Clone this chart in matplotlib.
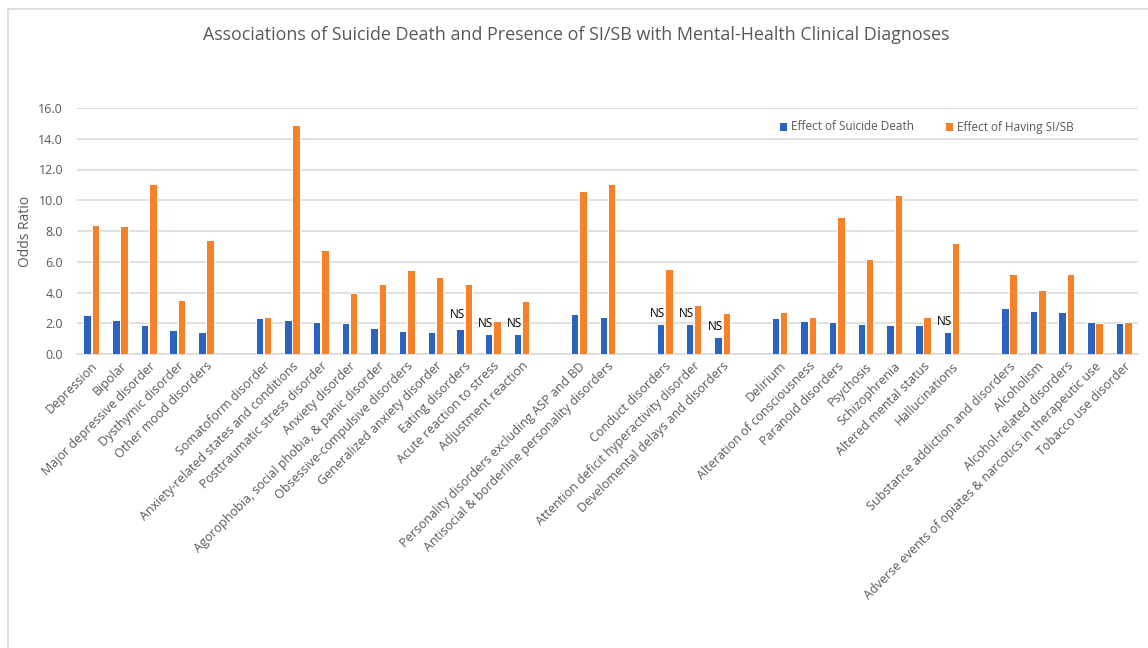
import matplotlib
matplotlib.use("Agg")
import matplotlib.pyplot as plt
from matplotlib.lines import Line2D
import numpy as np

plt.rcParams['font.family'] = ['Open Sans', 'DejaVu Sans']

# Categories ("" marks an empty slot between groups)
categories = [
    "Depression", "Bipolar", "Major depressive disorder", "Dysthymic disorder",
    "Other mood disorders", "",
    "Somatoform disorder", "Anxiety-related states and conditions",
    "Posttraumatic stress disorder", "Anxiety disorder",
    "Agorophobia, social phobia, & panic disorder", "Obsessive-compulsive disorders",
    "Generalized anxiety disorder", "Eating disorders", "Acute reaction to stress",
    "Adjustment reaction", "",
    "Personality disorders excluding ASP and BD",
    "Antisocial & borderline personality disorders", "",
    "Conduct disorders", "Attention deficit hyperactivity disorder",
    "Develomental delays and disorders", "",
    "Delirium", "Alteration of consciousness", "Paranoid disorders", "Psychosis",
    "Schizophrenia", "Altered mental status", "Hallucinations", "",
    "Substance addiction and disorders", "Alcoholism", "Alcohol-related disorders",
    "Adverse events of opiates & narcotics in therapeutic use", "Tobacco use disorder",
]

suicide_death = [
    2.52, 2.21, 1.86, 1.56, 1.43, None,
    2.36, 2.19, 2.08, 2.02, 1.69, 1.50, 1.43, 1.63, 1.30, 1.28, None,
    2.58, 2.41, None,
    1.97, 1.97, 1.08, None,
    2.36, 2.17, 2.08, 1.97, 1.89, 1.86, 1.45, None,
    2.99, 2.78, 2.73, 2.08, 2.04,
]

si_sb = [
    8.42, 8.30, 11.05, 3.49, 7.42, None,
    2.41, 14.88, 6.76, 3.99, 4.55, 5.46, 4.99, 4.55, 2.12, 3.43, None,
    10.60, 11.08, None,
    5.55, 3.19, 2.69, None,
    2.75, 2.41, 8.89, 6.16, 10.34, 2.41, 7.22, None,
    5.18, 4.14, 5.20, 2.00, 2.08,
]

ns_categories = [
    "Eating disorders", "Acute reaction to stress", "Adjustment reaction",
    "Conduct disorders", "Attention deficit hyperactivity disorder",
    "Develomental delays and disorders", "Hallucinations",
]

series_names = ["Effect of Suicide Death", "Effect of Having SI/SB"]
yticks = [0, 2, 4, 6, 8, 10, 12, 14, 16]

BLUE = "#2C63BF"
ORANGE = "#F5822A"
GRID = "#D9D9D9"
TXT = "#595959"

W, H = 1148, 648
fig = plt.figure(figsize=(W / 100, H / 100), dpi=100)
fig.patch.set_facecolor("white")

# Frame lines (left and top of the chart area)
fig.add_artist(Line2D([8 / W, 8 / W], [0, 1 - 9 / H], transform=fig.transFigure,
                      color=GRID, lw=1.2))
fig.add_artist(Line2D([8 / W, 1], [1 - 9 / H, 1 - 9 / H], transform=fig.transFigure,
                      color=GRID, lw=1.2))

left, right, top, bottom = 77, 1138, 108, 354
ax = fig.add_axes([left / W, 1 - bottom / H, (right - left) / W, (bottom - top) / H])

x = np.arange(len(categories))
bw = 0.26
off = 0.145
sd = np.array([np.nan if v is None else v for v in suicide_death])
ss = np.array([np.nan if v is None else v for v in si_sb])
mask = ~np.isnan(sd)
b1 = ax.bar(x[mask] - off, sd[mask], width=bw, color=BLUE, edgecolor="white",
            linewidth=0.7, label=series_names[0], zorder=3)
b2 = ax.bar(x[mask] + off, ss[mask], width=bw, color=ORANGE, edgecolor="white",
            linewidth=0.7, label=series_names[1], zorder=3)

for name in ns_categories:
    i = categories.index(name)
    dy = 6 if name == "Eating disorders" else 3
    ax.annotate("NS", (x[i] - off, sd[i]), xytext=(-2, dy), textcoords="offset points",
                ha="center", va="bottom", fontsize=8.5, color="black", zorder=4)

ax.set_xlim(-0.5, len(categories) - 0.5)
ax.set_ylim(0, 16)
ax.set_yticks(yticks)
ax.set_yticklabels([f"{v:.1f}" for v in yticks])
ax.yaxis.grid(True, color=GRID, lw=1.1, zorder=0)
ax.set_axisbelow(True)
for s in ["top", "right", "left"]:
    ax.spines[s].set_visible(False)
ax.spines["bottom"].set_color(GRID)
ax.spines["bottom"].set_linewidth(1.1)
ax.tick_params(axis="y", length=0, pad=10, labelsize=9, labelcolor=TXT)
ax.tick_params(axis="x", length=0, pad=4, labelsize=9, labelcolor=TXT)
ax.set_xticks(x)
ax.set_xticklabels(categories, rotation=45, ha="right", rotation_mode="anchor")
ax.set_ylabel("Odds Ratio", fontsize=10, color=TXT)
ax.yaxis.set_label_coords((33 - left) / (right - left), 0.5)

ax.legend(handles=[b1, b2], loc="center left",
          bbox_to_anchor=((774 - left) / (right - left), (bottom - 127) / (bottom - top)),
          ncol=2, frameon=False, fontsize=8.5, handlelength=0.7, handleheight=0.7,
          handletextpad=0.35, columnspacing=2.6, labelcolor=TXT, borderaxespad=0)

fig.text(576 / W, 1 - 35 / H,
         "Associations of Suicide Death and Presence of SI/SB with Mental-Health Clinical Diagnoses",
         ha="center", va="center", fontsize=12.9, color=TXT)

fig.savefig("out.png", dpi=100, facecolor="white")
